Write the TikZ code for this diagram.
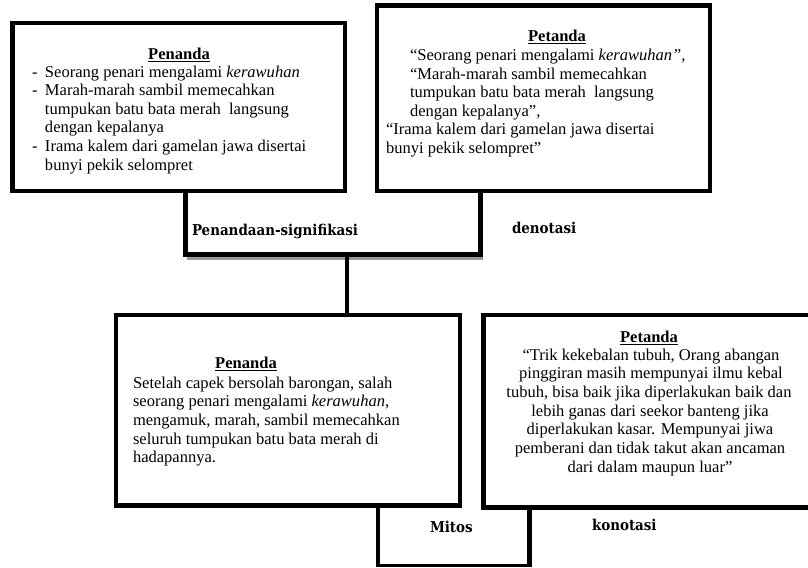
\documentclass[tikz,border=0pt]{standalone}
\usepackage{fontspec}
\setmainfont{Liberation Serif}
\newfontfamily\slabfont{DejaVu Serif Condensed}
\usetikzlibrary{calc}
\newdimen\pxu \pxu=0.75pt
\begin{document}
\begin{tikzpicture}[x=0.75pt,y=-0.75pt,
  box/.style={draw, line width=3.4pt, rectangle, inner sep=0pt, outer sep=0pt, fill=white},
  conn/.style={draw, line width=3.4pt, line join=miter},
  thinconn/.style={draw, line width=2.6pt, line join=miter},
  shadeline/.style={draw, black!40, line width=2.25pt},
  body/.style={font=\fontsize{12.4pt}{14pt}\selectfont, inner sep=0pt, outer sep=0pt},
  head/.style={font=\slabfont\fontsize{11.2pt}{13pt}\selectfont\bfseries, inner sep=0pt, outer sep=0pt}]
\useasboundingbox (0,0) rectangle (808,568);
% boxes
\node[box, minimum width=332.5\pxu, minimum height=168\pxu] (tl) at (178.75,107) {};
\node[box, minimum width=333\pxu, minimum height=185.5\pxu] (tr) at (543.5,98.25) {};
\node[box, minimum width=344\pxu, minimum height=190.5\pxu] (bl) at (288,410.25) {};
\node[box, minimum width=328.5\pxu, minimum height=192.5\pxu] (br) at (647.75,411.25) {};
% connector coordinates
\coordinate (k1) at (185.5,254.5);
\coordinate (k2) at (480.5,254.5);
\coordinate (m1) at (347,254.5);
\coordinate (k3) at (378,565.5);
\coordinate (k4) at (529.5,565.5);
% upper connector
\draw[shadeline] ($(k1)+(1,4)$) -- ($(k2)+(2.5,4)$);
\draw[conn] (tl.south -| k1) -- (k1) -- (k2) -- (tr.south -| k2);
\draw[conn] (m1) -- (bl.north -| m1);
% lower connector
\draw[conn] (bl.south -| k3) -- ($(k3)+(0,1)$);
\draw[conn] (br.south -| k4) -- ($(k4)+(0,1)$);
\draw[thinconn] ($(k3)+(-2.2,0)$) -- ($(k4)+(2.2,0)$);
% labels
\node[head, anchor=base west] (sig) at (192,235) {Penandaan-signifikasi};
\node[head, anchor=base west] (den) at (512,233) {denotasi};
\node[head, anchor=base west] (mit) at (430,532) {Mitos};
\node[head, anchor=base west] (kon) at (592,530) {konotasi};
% top-left text
\node[body, anchor=base] (tlh) at (179,59) {\textbf{\underline{Penanda}}};
\node[body, anchor=base west] (tlb1) at (32,77) {-};
\node[body, anchor=base west] (tl1) at (45,77) {Seorang penari mengalami \textit{kerawuhan}};
\node[body, anchor=base west] (tlb2) at (32,95.6) {-};
\node[body, anchor=base west] (tl2) at (45,95.6) {Marah-marah sambil memecahkan};
\node[body, anchor=base west] (tl3) at (45,114.2) {tumpukan batu bata merah~ langsung};
\node[body, anchor=base west] (tl4) at (45,132.8) {dengan kepalanya};
\node[body, anchor=base west] (tlb3) at (32,151.4) {-};
\node[body, anchor=base west] (tl5) at (45,151.4) {Irama kalem dari gamelan jawa disertai};
\node[body, anchor=base west] (tl6) at (45,170) {bunyi pekik selompret};
% top-right text
\node[body, anchor=base] (trh) at (557,41) {\textbf{\underline{Petanda}}};
\node[body, anchor=base west] (tr1) at (410,60.5) {“Seorang penari mengalami \textit{kerawuhan”,}};
\node[body, anchor=base west] (tr2) at (410,79) {“Marah-marah sambil memecahkan};
\node[body, anchor=base west] (tr3) at (410,97.5) {tumpukan batu bata merah~ langsung};
\node[body, anchor=base west] (tr4) at (410,116) {dengan kepalanya”,};
\node[body, anchor=base west] (tr5) at (386,134.5) {“Irama kalem dari gamelan jawa disertai};
\node[body, anchor=base west] (tr6) at (386,153) {bunyi pekik selompret”};
% bottom-left text
\node[body, anchor=base] (blh) at (246,368) {\textbf{\underline{Penanda}}};
\node[body, anchor=base west] (bl1) at (133,388) {Setelah capek bersolah barongan, salah};
\node[body, anchor=base west] (bl2) at (133,406.7) {seorang penari mengalami \textit{kerawuhan},};
\node[body, anchor=base west] (bl3) at (133,425.4) {mengamuk, marah, sambil memecahkan};
\node[body, anchor=base west] (bl4) at (133,444.1) {seluruh tumpukan batu bata merah di};
\node[body, anchor=base west] (bl5) at (133,462.8) {hadapannya.};
% bottom-right text
\node[body, anchor=base] (brh) at (649,342) {\textbf{\underline{Petanda}}};
\node[body, anchor=base] (br1) at (651,360) {“Trik kekebalan tubuh, Orang abangan};
\node[body, anchor=base] (br2) at (651,378.7) {pinggiran masih mempunyai ilmu kebal};
\node[body, anchor=base] (br3) at (649,397.4) {tubuh, bisa baik jika diperlakukan baik dan};
\node[body, anchor=base] (br4) at (650,416.1) {lebih ganas dari seekor banteng jika};
\node[body, anchor=base] (br5) at (650,434.8) {diperlakukan kasar. Mempunyai jiwa};
\node[body, anchor=base] (br6) at (650,453.5) {pemberani dan tidak takut akan ancaman};
\node[body, anchor=base] (br7) at (650,472.2) {dari dalam maupun luar”};
\end{tikzpicture}
\end{document}
